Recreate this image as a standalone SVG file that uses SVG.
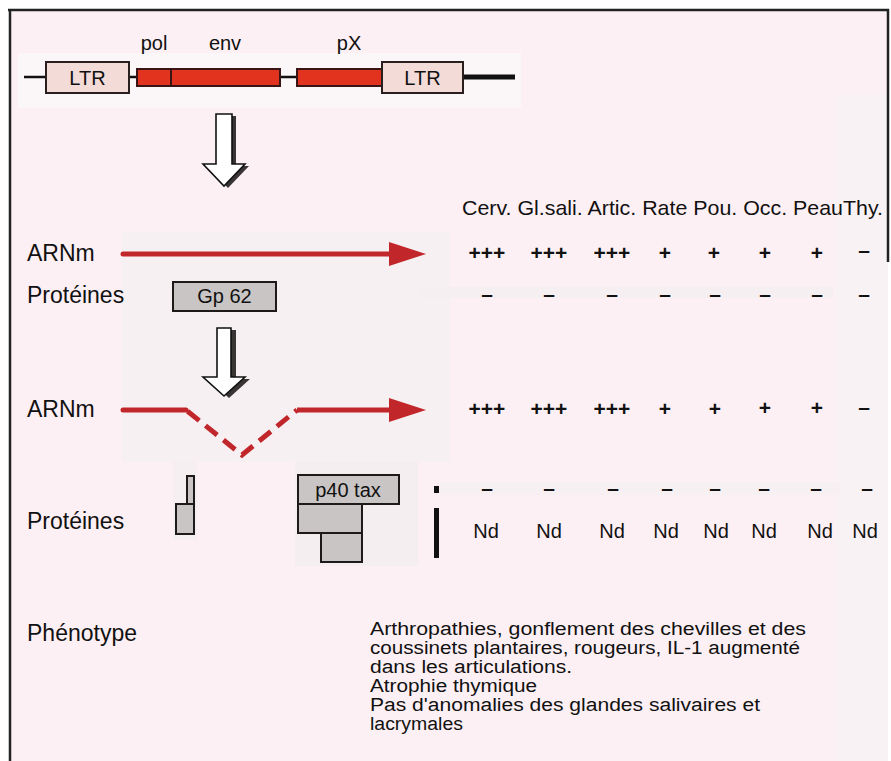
<svg xmlns="http://www.w3.org/2000/svg" width="891" height="761" viewBox="0 0 891 761">
<defs>
<style>
text{font-family:"Liberation Sans",Arial,Helvetica,sans-serif;fill:#111}
.lbl{font-size:23px}
.gene{font-size:20px}
.hdr{font-size:21px}
.val{font-size:21px;font-weight:bold;text-anchor:middle}
.nd{font-size:20px;text-anchor:middle}
.ph{font-size:18px}
.ltr{fill:#f3dcd8;stroke:#2a1f1f;stroke-width:2}
.red{fill:#e2331f;stroke:#3a1515;stroke-width:2}
.prot{fill:#c9c5c5;stroke:#1e1a1a;stroke-width:2}
.rna{stroke:#c1262b;stroke-width:5;fill:none}
.rnahead{fill:#c1262b}
.hollow{fill:#fff;stroke:#111;stroke-width:1.6;stroke-linejoin:miter}
.shadow{fill:#3a3535}
</style>
</defs>
<rect x="0" y="0" width="891" height="761" fill="#ffffff"/>
<rect x="10" y="10" width="878" height="751" fill="#fdf0f4"/>
<rect x="835" y="95" width="53" height="666" fill="#f9f2f4"/>
<rect x="18" y="53" width="503" height="55" fill="#fbf6f7"/>
<rect x="122" y="232" width="328" height="230" fill="#f7f0f2"/>
<rect x="420" y="287" width="413" height="11" fill="#f6eff1"/>
<rect x="173" y="462" width="24" height="78" fill="#f6eff1"/>
<rect x="295" y="462" width="123" height="104" fill="#f5eef0"/>
<rect x="440" y="482" width="400" height="13" fill="#f7f0f2"/>
<g id="frame" stroke="#222" stroke-width="2.5" fill="none">
<line x1="8" y1="10" x2="889" y2="10"/>
<line x1="10" y1="9" x2="10" y2="761"/>
<line x1="888" y1="9" x2="888" y2="262"/>
</g>
<g id="genome">
<line x1="24" y1="77" x2="46" y2="77" stroke="#111" stroke-width="2.5"/>
<line x1="129" y1="77" x2="137" y2="77" stroke="#111" stroke-width="2.5"/>
<line x1="280" y1="77" x2="297" y2="77" stroke="#111" stroke-width="2.5"/>
<line x1="463" y1="77" x2="515" y2="77" stroke="#111" stroke-width="5"/>
<g id="ltr1"><rect class="ltr" x="46" y="62" width="83" height="31"/><text class="gene" x="87.5" y="85" text-anchor="middle">LTR</text></g>
<g id="pol"><rect class="red" x="137" y="69" width="34" height="17"/><text class="gene" x="154" y="50" text-anchor="middle">pol</text></g>
<g id="env"><rect class="red" x="171" y="69" width="109" height="17"/><text class="gene" x="225" y="50" text-anchor="middle">env</text></g>
<g id="px"><rect class="red" x="297" y="69" width="86" height="17"/><text class="gene" x="349" y="50" text-anchor="middle">pX</text></g>
<g id="ltr2"><rect class="ltr" x="382" y="62" width="81" height="31"/><text class="gene" x="422.5" y="85" text-anchor="middle">LTR</text></g>
</g>
<g id="arrow1">
<polygon class="shadow" points="220,116 236,116 236,166 249,166 228,188 207,166 220,166"/>
<polygon class="hollow" points="216,114 232,114 232,164 245,164 224,186 203,164 216,164"/>
</g>
<g id="arrow2">
<polygon class="shadow" points="222,330 236,330 236,379 250,379 229,398 208,379 222,379"/>
<polygon class="hollow" points="217,328 231,328 231,377 245,377 224,396 203,377 217,377"/>
</g>
<g id="connectors">
<line class="rna" x1="123" y1="254" x2="392" y2="254" stroke-linecap="round"/>
<polygon class="rnahead" points="389,242 426,254 389,266"/>
<path class="rna" d="M123 410 H186" stroke-linecap="round"/>
<path class="rna" d="M186 410 L242 455 L297 410" stroke-dasharray="15 8" stroke-dashoffset="-2"/>
<path class="rna" d="M297 410 H392"/>
<polygon class="rnahead" points="389,398 426,410 389,422"/>
</g>
<g id="labels">
<text class="lbl" x="27" y="261">ARNm</text>
<text class="lbl" x="27" y="303">Protéines</text>
<text class="lbl" x="27" y="417">ARNm</text>
<text class="lbl" x="27" y="529">Protéines</text>
<text class="lbl" x="27" y="641">Phénotype</text>
</g>
<g id="gp62"><rect class="prot" x="173" y="282" width="103" height="29"/><text class="gene" x="224.5" y="303" text-anchor="middle">Gp 62</text></g>
<g id="prot-small">
<rect class="prot" x="187" y="476" width="7" height="28"/>
<rect class="prot" x="176" y="504" width="18" height="30"/>
</g>
<g id="p40tax">
<rect class="prot" x="298" y="475" width="101" height="29"/>
<text class="gene" x="348" y="497" text-anchor="middle">p40 tax</text>
<rect class="prot" x="298" y="504" width="64" height="29"/>
<rect class="prot" x="321" y="533" width="41" height="29"/>
</g>
<g id="marks" fill="#111">
<rect x="434" y="486" width="5" height="7"/>
<rect x="434" y="508" width="5" height="50"/>
</g>
<g id="header">
<text class="hdr" x="462" y="215" textLength="421" lengthAdjust="spacingAndGlyphs">Cerv. Gl.sali. Artic. Rate Pou. Occ. PeauThy.</text>
</g>
<g id="row-arnm1">
<text class="val" x="487" y="260">+++</text>
<text class="val" x="549" y="260">+++</text>
<text class="val" x="612" y="260">+++</text>
<text class="val" x="665" y="260">+</text>
<text class="val" x="714" y="260">+</text>
<text class="val" x="765" y="260">+</text>
<text class="val" x="817" y="260">+</text>
<text class="val" x="864" y="257">–</text>
</g>
<g id="row-prot1">
<text class="val" x="487" y="301">–</text>
<text class="val" x="549" y="301">–</text>
<text class="val" x="612" y="301">–</text>
<text class="val" x="665" y="301">–</text>
<text class="val" x="715" y="301">–</text>
<text class="val" x="765" y="301">–</text>
<text class="val" x="817" y="301">–</text>
<text class="val" x="864" y="301">–</text>
</g>
<g id="row-arnm2">
<text class="val" x="487" y="416">+++</text>
<text class="val" x="549" y="416">+++</text>
<text class="val" x="612" y="416">+++</text>
<text class="val" x="665" y="416">+</text>
<text class="val" x="715" y="416">+</text>
<text class="val" x="765" y="415">+</text>
<text class="val" x="817" y="415">+</text>
<text class="val" x="864" y="414">–</text>
</g>
<g id="row-prot2">
<text class="val" x="487" y="495">–</text>
<text class="val" x="549" y="495">–</text>
<text class="val" x="613" y="495">–</text>
<text class="val" x="667" y="495">–</text>
<text class="val" x="715" y="495">–</text>
<text class="val" x="764" y="495">–</text>
<text class="val" x="816" y="495">–</text>
<text class="val" x="867" y="495">–</text>
</g>
<g id="row-nd">
<text class="nd" x="486" y="538">Nd</text>
<text class="nd" x="549" y="538">Nd</text>
<text class="nd" x="612" y="538">Nd</text>
<text class="nd" x="666" y="538">Nd</text>
<text class="nd" x="716" y="538">Nd</text>
<text class="nd" x="764" y="538">Nd</text>
<text class="nd" x="820" y="538">Nd</text>
<text class="nd" x="865" y="538">Nd</text>
</g>
<g id="phenotype">
<text class="ph" x="370" y="635" textLength="436" lengthAdjust="spacingAndGlyphs">Arthropathies, gonflement des chevilles et des</text>
<text class="ph" x="370" y="654" textLength="430" lengthAdjust="spacingAndGlyphs">coussinets plantaires, rougeurs, IL-1 augmenté</text>
<text class="ph" x="370" y="673" textLength="202" lengthAdjust="spacingAndGlyphs">dans les articulations.</text>
<text class="ph" x="370" y="692" textLength="167" lengthAdjust="spacingAndGlyphs">Atrophie thymique</text>
<text class="ph" x="370" y="711" textLength="390" lengthAdjust="spacingAndGlyphs">Pas d'anomalies des glandes salivaires et</text>
<text class="ph" x="370" y="730" textLength="93" lengthAdjust="spacingAndGlyphs">lacrymales</text>
</g>
</svg>
